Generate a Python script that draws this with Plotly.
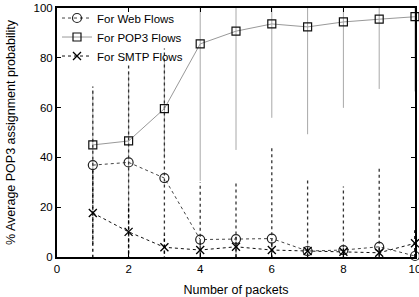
import plotly.graph_objects as go

packets = [1, 2, 3, 4, 5, 6, 7, 8, 9, 10]

web_mean = [36.9, 38.0, 31.7, 7.0, 7.2, 7.4, 2.4, 2.8, 4.1, 0.4]
web_err = [31.6, 39.4, 52.0, 23.0, 22.3, 37.2, 28.3, 25.5, 32.5, 10.0]

pop3_mean = [45.0, 46.6, 59.6, 85.6, 90.7, 93.6, 92.4, 94.4, 95.5, 96.5]
pop3_err = [22.0, 28.0, 20.0, 55.0, 47.7, 37.7, 43.1, 34.5, 28.0, 30.0]

smtp_mean = [17.7, 10.1, 3.9, 2.8, 4.1, 2.8, 2.4, 2.1, 1.7, 5.5]
smtp_err = [18.0, 11.0, 5.0, 3.0, 4.0, 3.0, 2.5, 2.2, 1.8, 5.5]

x_ticks = [0, 2, 4, 6, 8, 10]
y_ticks = [0, 20, 40, 60, 80, 100]

FONT = "Liberation Sans, Arial, sans-serif"


def err_segments(xs, means, errs):
    ex, ey = [], []
    for x, m, e in zip(xs, means, errs):
        ex += [x, x, None]
        ey += [m - e, m + e, None]
    return ex, ey


fig = go.Figure()

# error bars (POP3 first, then Web, then SMTP)
ex, ey = err_segments(packets, pop3_mean, pop3_err)
fig.add_trace(go.Scatter(x=ex, y=ey, mode="lines", showlegend=False,
                         line=dict(color="#a8a8a8", width=1), hoverinfo="skip"))
ex, ey = err_segments(packets, web_mean, web_err)
fig.add_trace(go.Scatter(x=ex, y=ey, mode="lines", showlegend=False,
                         line=dict(color="#333333", width=1.3, dash="dot"), hoverinfo="skip"))
ex, ey = err_segments(packets, smtp_mean, smtp_err)
fig.add_trace(go.Scatter(x=ex, y=ey, mode="lines", showlegend=False,
                         line=dict(color="#000000", width=1.3, dash="dot"), hoverinfo="skip"))

fig.add_trace(go.Scatter(
    x=packets, y=web_mean, mode="lines+markers", name="For Web Flows",
    line=dict(color="#444444", width=1, dash="dot"),
    marker=dict(symbol="circle-open", size=9, color="#222222", line=dict(width=1.2)),
    cliponaxis=False,
))
fig.add_trace(go.Scatter(
    x=packets, y=pop3_mean, mode="lines+markers", name="For POP3 Flows",
    line=dict(color="#999999", width=1),
    marker=dict(symbol="square-open", size=8, color="#111111", line=dict(width=1.2)),
    cliponaxis=False,
))
fig.add_trace(go.Scatter(
    x=packets, y=smtp_mean, mode="lines+markers", name="For SMTP Flows",
    line=dict(color="#111111", width=1, dash="dot"),
    marker=dict(symbol="x-thin-open", size=8, color="#000000", line=dict(width=1.3)),
    cliponaxis=False,
))

fig.update_layout(
    width=419, height=297,
    margin=dict(l=57, r=4, t=6, b=40),
    paper_bgcolor="white", plot_bgcolor="white",
    font=dict(family=FONT, size=11, color="black"),
    showlegend=True,
    legend=dict(x=0.0, y=1.018, xanchor="left", yanchor="top",
                bgcolor="rgba(0,0,0,0)", font=dict(size=11.5),
                tracegroupgap=0, itemwidth=30),
)
fig.update_xaxes(
    range=[0, 10], tickvals=x_ticks, ticktext=[str(v) for v in x_ticks],
    showgrid=False, zeroline=False, showline=True, linewidth=2, linecolor="black",
    mirror="allticks", ticks="inside", ticklen=4, tickcolor="black",
    ticklabeloverflow="allow", automargin=False, tickfont=dict(size=11.5),
    title=dict(text="Number of packets", font=dict(size=12.5)),
)
fig.update_yaxes(
    range=[0, 100], tickvals=y_ticks, ticktext=[str(v) for v in y_ticks],
    showgrid=False, zeroline=False, showline=True, linewidth=2, linecolor="black",
    mirror="allticks", ticks="inside", ticklen=4, tickcolor="black",
    ticklabeloverflow="allow", automargin=False, tickfont=dict(size=11.5),
    title=dict(text="% Average POP3 assignment probability", font=dict(size=12.5)),
)

fig.write_html(
    "out.html",
    config={"displayModeBar": False},
    post_script="document.body.style.margin='0';document.body.style.overflow='hidden';",
)
